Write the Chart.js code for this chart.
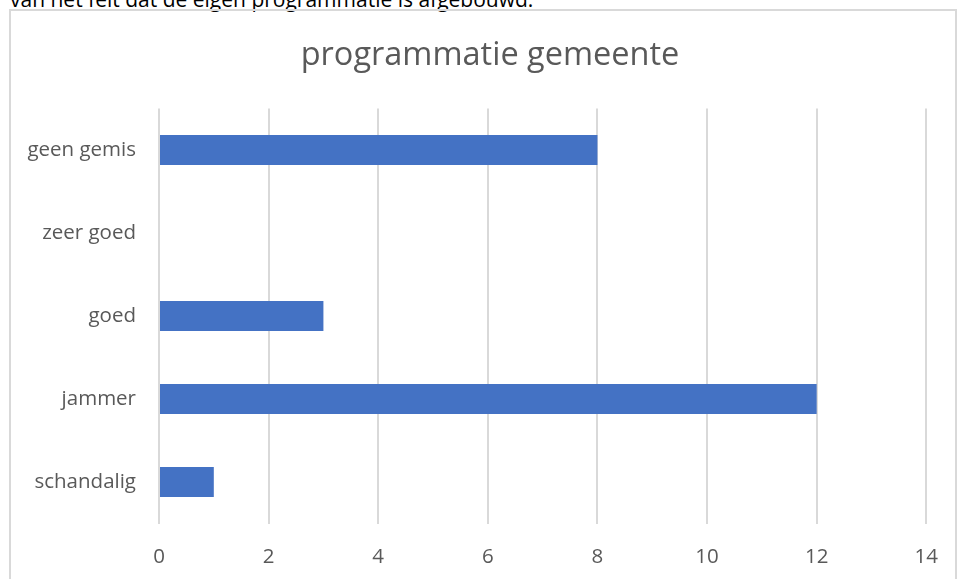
<!DOCTYPE html>
<html>
<head>
<meta charset="utf-8">
<script src="https://cdn.jsdelivr.net/npm/chart.js@4/dist/chart.umd.min.js"></script>
<style>
  html, body { margin: 0; padding: 0; background: #fff; overflow: hidden; }
  #intro {
    position: absolute; left: 10px; top: -15px;
    font-family: "Open Sans", "Noto Sans", sans-serif; font-size: 21px; color: #000;
    white-space: nowrap;
  }
  #frame {
    position: absolute; left: 9px; top: 9px; width: 948px; height: 600px;
    border: 2px solid #d9d9d9; box-sizing: border-box;
  }
  #wrap { position: absolute; left: 0; top: 0; width: 959px; height: 579px; }
</style>
</head>
<body>
<div id="intro">van het feit dat de eigen programmatie is afgebouwd.</div>
<div id="frame"></div>
<div id="wrap"><canvas id="c"></canvas></div>
<script>
// Antwoorden op de vraag over de programmatie van de gemeente
const chartTitle = 'programmatie gemeente';
const categories = ["geen gemis", "zeer goed", "goed", "jammer", "schandalig"];
const counts = [8, 0, 3, 12, 1];
const xTicks = [0, 2, 4, 6, 8, 10, 12, 14];

const font = '"Open Sans", "Noto Sans", sans-serif';
const grey = '#595959';

// Title centred over the frame rather than over the plot
const frameTitle = {
  id: 'frameTitle',
  afterDraw(chart) {
    const ctx = chart.ctx;
    ctx.save();
    ctx.font = '32.5px ' + font;
    ctx.fillStyle = grey;
    ctx.textAlign = 'center';
    ctx.textBaseline = 'alphabetic';
    ctx.fillText(chartTitle, 490, 65);
    ctx.restore();
  }
};

new Chart(document.getElementById('c'), {
  type: 'bar',
  data: {
    labels: categories,
    datasets: [{
      data: counts,
      backgroundColor: '#4472C4',
      borderWidth: 0,
      barPercentage: 0.36,
      categoryPercentage: 1
    }]
  },
  options: {
    indexAxis: 'y',
    responsive: true,
    maintainAspectRatio: false,
    animation: false,
    layout: { padding: { left: 0, right: 30, top: 108.5, bottom: 0 } },
    plugins: {
      legend: { display: false },
      tooltip: { enabled: false },
      title: { display: false }
    },
    scales: {
      x: {
        min: 0, max: 14,
        afterBuildTicks: s => { s.ticks = xTicks.map(v => ({ value: v })); },
        afterFit: s => { s.height = 55.5; },
        grid: { color: '#d9d9d9', lineWidth: 2, drawTicks: false },
        border: { display: false },
        ticks: { color: grey, font: { family: font, size: 20.5 }, padding: 21 }
      },
      y: {
        afterFit: s => { s.width = 159; },
        grid: { display: false, drawTicks: false },
        border: { display: false },
        ticks: { color: grey, font: { family: font, size: 20.5 }, padding: 23 }
      }
    }
  },
  plugins: [frameTitle]
});
</script>
</body>
</html>
